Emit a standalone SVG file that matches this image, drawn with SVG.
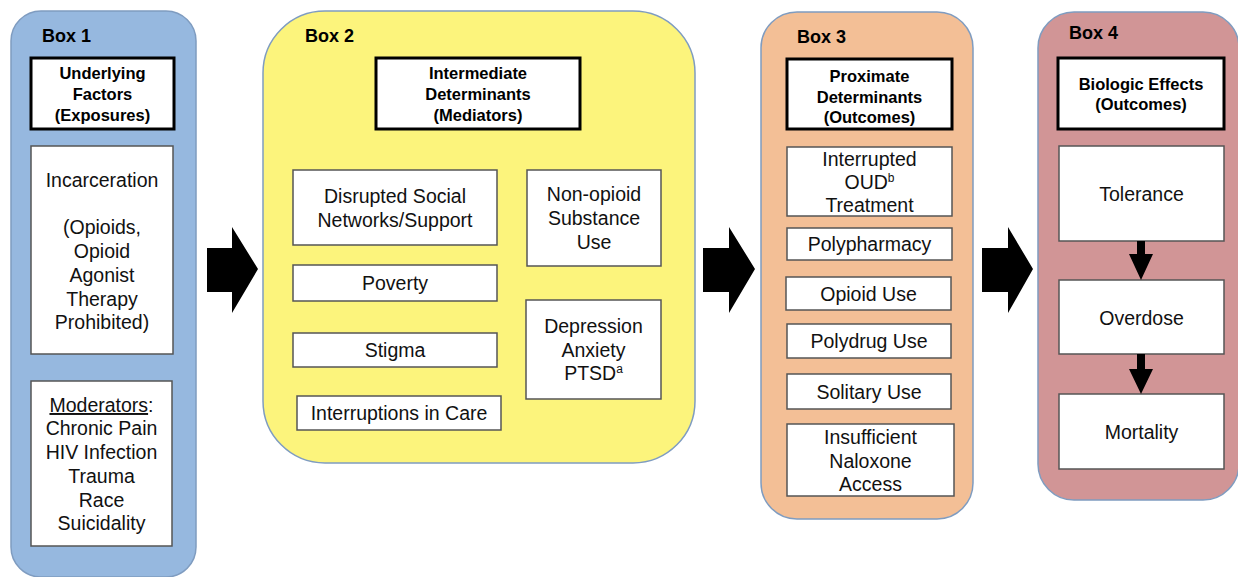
<svg xmlns="http://www.w3.org/2000/svg" width="1238" height="577" viewBox="0 0 1238 577">
  <style>
    .panel { stroke: #7f9cc0; stroke-width: 1.5; }
    .hdr { fill: #ffffff; stroke: #000000; stroke-width: 3; }
    .item { fill: #ffffff; stroke: #555555; stroke-width: 1.5; }
    .boxlabel { font-family: "Liberation Sans", Arial, sans-serif; font-weight: bold; font-size: 18px; fill: #000000; }
    .htext { font-family: "Liberation Sans", Arial, sans-serif; font-weight: bold; font-size: 16.5px; fill: #000000; text-anchor: middle; }
    .t { font-family: "Liberation Sans", Arial, sans-serif; font-size: 19.5px; fill: #111111; text-anchor: middle; }
    .sup { font-size: 12px; }
    .arrow { fill: #000000; }
  </style>
  <rect width="1238" height="577" fill="#ffffff"/>

  <!-- Box 1: underlying factors -->
  <g id="box1">
    <rect class="panel" x="11" y="11" width="185" height="566" rx="30" fill="#96b8df"/>
    <text class="boxlabel" x="42" y="42">Box 1</text>
    <rect class="hdr" x="31" y="58" width="143" height="71"/>
    <text class="htext" x="102.5" y="79">Underlying</text>
    <text class="htext" x="102.5" y="100">Factors</text>
    <text class="htext" x="102.5" y="121">(Exposures)</text>
  </g>
  <g id="incarceration">
    <rect class="item" x="31" y="146" width="142" height="208"/>
    <text class="t" x="102" y="187">Incarceration</text>
    <text class="t" x="102" y="234">(Opioids,</text>
    <text class="t" x="102" y="258">Opioid</text>
    <text class="t" x="102" y="282">Agonist</text>
    <text class="t" x="102" y="306">Therapy</text>
    <text class="t" x="102" y="329">Prohibited)</text>
  </g>
  <g id="moderators">
    <rect class="item" x="31" y="381" width="141" height="165"/>
    <text class="t" x="101.5" y="412"><tspan text-decoration="underline">Moderators</tspan>:</text>
    <text class="t" x="101.5" y="435">Chronic Pain</text>
    <text class="t" x="101.5" y="459">HIV Infection</text>
    <text class="t" x="101.5" y="483">Trauma</text>
    <text class="t" x="101.5" y="507">Race</text>
    <text class="t" x="101.5" y="530">Suicidality</text>
  </g>

  <!-- Box 2: intermediate determinants -->
  <g id="box2">
    <rect class="panel" x="263" y="11" width="432" height="452" rx="62" fill="#fcf47c"/>
    <text class="boxlabel" x="305" y="42">Box 2</text>
    <rect class="hdr" x="376" y="58" width="204" height="71"/>
    <text class="htext" x="478" y="79">Intermediate</text>
    <text class="htext" x="478" y="100">Determinants</text>
    <text class="htext" x="478" y="121">(Mediators)</text>
  </g>
  <g id="disrupted-networks">
    <rect class="item" x="293" y="170" width="204" height="75"/>
    <text class="t" x="395" y="203">Disrupted Social</text>
    <text class="t" x="395" y="227">Networks/Support</text>
  </g>
  <g id="non-opioid-use">
    <rect class="item" x="527" y="170" width="134" height="96"/>
    <text class="t" x="594" y="201">Non-opioid</text>
    <text class="t" x="594" y="225">Substance</text>
    <text class="t" x="594" y="249">Use</text>
  </g>
  <g id="poverty">
    <rect class="item" x="293" y="265" width="204" height="36"/>
    <text class="t" x="395" y="290">Poverty</text>
  </g>
  <g id="stigma">
    <rect class="item" x="293" y="333" width="204" height="34"/>
    <text class="t" x="395" y="357">Stigma</text>
  </g>
  <g id="interruptions">
    <rect class="item" x="297" y="396" width="204" height="34"/>
    <text class="t" x="399" y="420">Interruptions in Care</text>
  </g>
  <g id="mental-health">
    <rect class="item" x="526" y="300" width="135" height="99"/>
    <text class="t" x="593.5" y="333">Depression</text>
    <text class="t" x="593.5" y="357">Anxiety</text>
    <text class="t" x="593.5" y="380">PTSD<tspan class="sup" dy="-7">a</tspan></text>
  </g>

  <!-- Box 3: proximate determinants -->
  <g id="box3">
    <rect class="panel" x="761" y="12" width="212" height="507" rx="36" fill="#f3bf96"/>
    <text class="boxlabel" x="797" y="43">Box 3</text>
    <rect class="hdr" x="787" y="59" width="165" height="70"/>
    <text class="htext" x="869.5" y="82">Proximate</text>
    <text class="htext" x="869.5" y="103">Determinants</text>
    <text class="htext" x="869.5" y="123">(Outcomes)</text>
  </g>
  <g id="interrupted-treatment">
    <rect class="item" x="787" y="147" width="165" height="69"/>
    <text class="t" x="869.5" y="166">Interrupted</text>
    <text class="t" x="869.5" y="189">OUD<tspan class="sup" dy="-7">b</tspan></text>
    <text class="t" x="869.5" y="212">Treatment</text>
  </g>
  <g id="polypharmacy">
    <rect class="item" x="787" y="228" width="165" height="32"/>
    <text class="t" x="869.5" y="251">Polypharmacy</text>
  </g>
  <g id="opioid-use">
    <rect class="item" x="786" y="277" width="165" height="33"/>
    <text class="t" x="868.5" y="301">Opioid Use</text>
  </g>
  <g id="polydrug-use">
    <rect class="item" x="787" y="324" width="164" height="34"/>
    <text class="t" x="869" y="348">Polydrug Use</text>
  </g>
  <g id="solitary-use">
    <rect class="item" x="787" y="374" width="164" height="35"/>
    <text class="t" x="869" y="399">Solitary Use</text>
  </g>
  <g id="naloxone-access">
    <rect class="item" x="787" y="424" width="167" height="72"/>
    <text class="t" x="870.5" y="444">Insufficient</text>
    <text class="t" x="870.5" y="468">Naloxone</text>
    <text class="t" x="870.5" y="491">Access</text>
  </g>

  <!-- Box 4: biologic effects -->
  <g id="box4">
    <rect class="panel" x="1038" y="12" width="201" height="488" rx="36" fill="#d19596"/>
    <text class="boxlabel" x="1069" y="39">Box 4</text>
    <rect class="hdr" x="1058" y="58" width="166" height="71"/>
    <text class="htext" x="1141" y="90">Biologic Effects</text>
    <text class="htext" x="1141" y="110">(Outcomes)</text>
  </g>
  <g id="tolerance">
    <rect class="item" x="1059" y="146" width="165" height="95"/>
    <text class="t" x="1141.5" y="201">Tolerance</text>
  </g>
  <g id="overdose">
    <rect class="item" x="1059" y="280" width="165" height="74"/>
    <text class="t" x="1141.5" y="325">Overdose</text>
  </g>
  <g id="mortality">
    <rect class="item" x="1059" y="394" width="165" height="75"/>
    <text class="t" x="1141.5" y="439">Mortality</text>
  </g>

  <!-- Connectors: block arrows between panels and down arrows in Box 4 -->
  <g id="connectors">
    <polygon class="arrow" points="207,248 232,248 232,227 258,269 232,313 232,292 207,292"/>
    <polygon class="arrow" points="703,248 729,248 729,227 755,269 729,313 729,292 703,292"/>
    <polygon class="arrow" points="982,248 1008,248 1008,227 1033,269 1008,313 1008,292 982,292"/>
    <polygon class="arrow" points="1137,241 1145,241 1145,254 1153,254 1141,280 1129,254 1137,254"/>
    <polygon class="arrow" points="1137,354 1145,354 1145,369 1153,369 1141,394 1129,369 1137,369"/>
  </g>
</svg>
